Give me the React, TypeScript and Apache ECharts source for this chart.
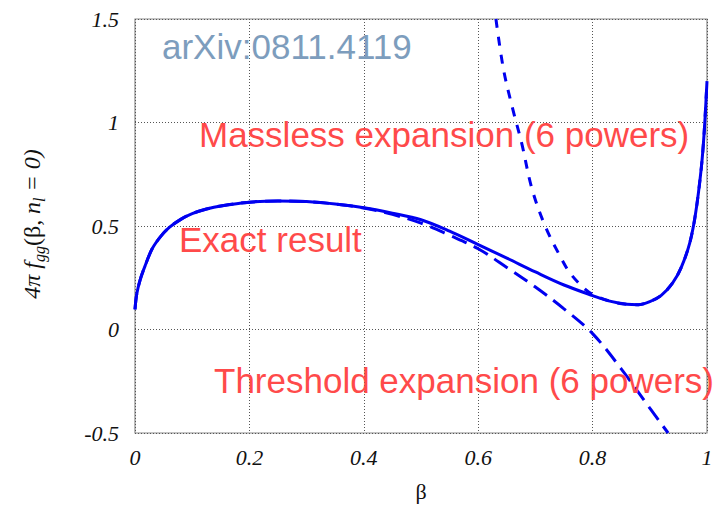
import React, { useEffect, useRef } from "react";
import * as echarts from "echarts";

// ---- data ----
const exactBeta = [0, 0.003, 0.009, 0.018, 0.03, 0.045, 0.06, 0.08, 0.1, 0.125, 0.15, 0.2, 0.25, 0.3, 0.35, 0.4, 0.45, 0.5, 0.55, 0.6, 0.65, 0.7, 0.75, 0.8, 0.83, 0.86, 0.88, 0.9, 0.92, 0.94, 0.955, 0.97, 0.98, 0.99, 0.995, 1.0];
const exactVals = [0.097, 0.17, 0.24, 0.31, 0.39, 0.45, 0.493, 0.532, 0.56, 0.582, 0.597, 0.615, 0.621, 0.618, 0.606, 0.588, 0.562, 0.53, 0.475, 0.41, 0.345, 0.278, 0.215, 0.164, 0.137, 0.122, 0.12, 0.135, 0.165, 0.225, 0.3, 0.42, 0.56, 0.78, 0.95, 1.2];

const thresholdBeta = [0, 0.003, 0.009, 0.018, 0.03, 0.045, 0.06, 0.08, 0.1, 0.125, 0.15, 0.2, 0.25, 0.3, 0.35, 0.4, 0.45, 0.5, 0.55, 0.6, 0.65, 0.7, 0.75, 0.8, 0.85, 0.9, 0.932];
const thresholdVals = [0.097, 0.17, 0.24, 0.31, 0.39, 0.45, 0.493, 0.532, 0.56, 0.582, 0.597, 0.615, 0.621, 0.618, 0.606, 0.587, 0.556, 0.514, 0.455, 0.39, 0.3, 0.205, 0.1, -0.02, -0.19, -0.38, -0.5];

const masslessBeta = [0.631, 0.644, 0.659, 0.676, 0.694, 0.717, 0.743, 0.76, 0.783, 0.8, 0.83, 0.86, 0.88, 0.9, 0.92, 0.94, 0.955, 0.97, 0.98, 0.99, 0.995, 1.0];
const masslessVals = [1.5, 1.26, 1.08, 0.9, 0.68, 0.5, 0.355, 0.275, 0.205, 0.17, 0.137, 0.122, 0.12, 0.135, 0.165, 0.225, 0.3, 0.42, 0.56, 0.78, 0.95, 1.2];

const xTicks = { min: 0, max: 1, interval: 0.2 };
const yTicks = { min: -0.5, max: 1.5, interval: 0.5 };

const watermark = "arXiv:0811.4119";
const labelMassless = "Massless expansion (6 powers)";
const labelExact = "Exact result";
const labelThreshold = "Threshold expansion (6 powers)";

const pairs = (xs: number[], ys: number[]) => xs.map((x, i) => [x, ys[i]]);

export default function App() {
  const ref = useRef<HTMLDivElement>(null);
  useEffect(() => {
    if (!ref.current) return;
    const chart = echarts.init(ref.current, null, { renderer: "svg" });
    const serif = "'Liberation Serif', 'Times New Roman', serif";
    const sans = "'Liberation Sans', Arial, sans-serif";
    const blue = "#0000f0";
    const red = "#ff4a4a";
    const gridLine = { show: true, lineStyle: { color: "#555", type: [1, 2], width: 1 } };
    chart.setOption({
      animation: false,
      backgroundColor: "#fff",
      grid: { left: 135, right: 14, top: 19, bottom: 75, show: true, borderColor: "#8a8a8a", borderWidth: 1.2, backgroundColor: "transparent" },
      xAxis: {
        type: "value",
        min: xTicks.min,
        max: xTicks.max,
        interval: xTicks.interval,
        axisLine: { show: false },
        axisTick: { show: false },
        splitLine: gridLine,
        axisLabel: { margin: 13, fontFamily: serif, fontStyle: "italic", fontSize: 22, color: "#111" },
      },
      yAxis: {
        type: "value",
        min: yTicks.min,
        max: yTicks.max,
        interval: yTicks.interval,
        axisLine: { show: false },
        axisTick: { show: false },
        splitLine: gridLine,
        axisLabel: { margin: 16, fontFamily: serif, fontStyle: "italic", fontSize: 22, color: "#111" },
      },
      series: [
        {
          type: "line",
          data: pairs(thresholdBeta, thresholdVals),
          showSymbol: false,
          smooth: 0.35,
          clip: true,
          lineStyle: { color: blue, width: 3, type: [16, 8] },
          z: 2,
        },
        {
          type: "line",
          data: pairs(masslessBeta, masslessVals),
          showSymbol: false,
          smooth: 0.35,
          clip: true,
          lineStyle: { color: blue, width: 3, type: [9, 9] },
          z: 2,
        },
        {
          type: "line",
          data: pairs(exactBeta, exactVals),
          showSymbol: false,
          smooth: 0.35,
          clip: true,
          lineStyle: { color: blue, width: 3 },
          z: 3,
        },
      ],
      graphic: [
        { type: "text", x: 162, y: 46, z: 10, style: { text: watermark, fill: "#7d9dbd", font: `35px ${sans}`, align: "left", verticalAlign: "middle" } },
        { type: "text", x: 199, y: 134, z: 10, style: { text: labelMassless, fill: red, font: `35px ${sans}`, align: "left", verticalAlign: "middle" } },
        { type: "text", x: 179, y: 239, z: 10, style: { text: labelExact, fill: red, font: `35px ${sans}`, align: "left", verticalAlign: "middle" } },
        { type: "text", x: 214, y: 380.5, z: 10, style: { text: labelThreshold, fill: red, font: `35px ${sans}`, align: "left", verticalAlign: "middle" } },
        { type: "text", x: 421, y: 491, style: { text: "β", fill: "#111", font: `22px ${serif}`, align: "center", verticalAlign: "middle" } },
        {
          type: "text",
          x: 32,
          y: 224,
          rotation: Math.PI / 2,
          style: {
            text: "{i|4π }{i|f}{s|gg}{r|(β, }{i|n}{s|l}{i| = 0)}",
            align: "center",
            verticalAlign: "middle",
            fill: "#111",
            rich: {
              i: { fontFamily: serif, fontStyle: "italic", fontSize: 24, lineHeight: 30, verticalAlign: "middle", fill: "#111" },
              r: { fontFamily: serif, fontSize: 24, lineHeight: 30, verticalAlign: "middle", fill: "#111" },
              s: { fontFamily: serif, fontStyle: "italic", fontSize: 16, lineHeight: 16, verticalAlign: "bottom", fill: "#111" },
            },
          },
        },
      ],
    });
    return () => chart.dispose();
  }, []);
  return <div ref={ref} style={{ position: "absolute", left: 0, top: 0, width: 721, height: 508 }} />;
}
